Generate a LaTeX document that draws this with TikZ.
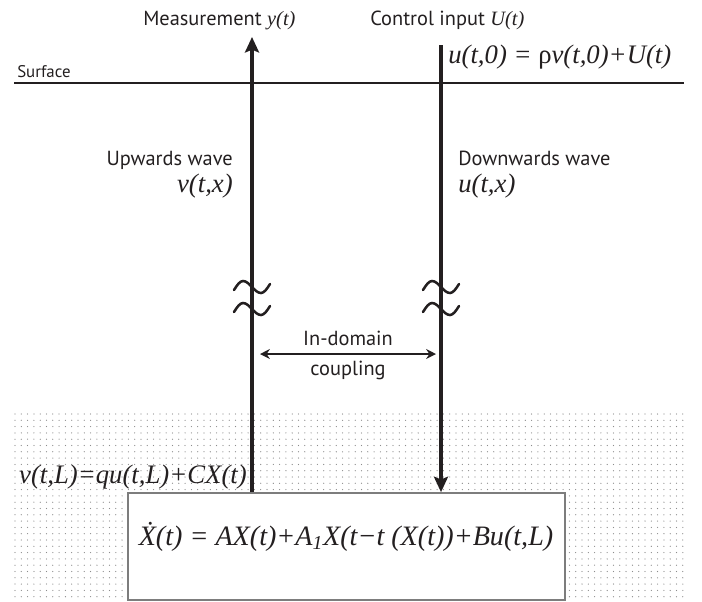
\documentclass[tikz,border=0pt]{standalone}
\usepackage{fontspec}
\usepackage{xcolor}
\usepackage{tikz}
\usetikzlibrary{arrows.meta, positioning, fit}
\newfontfamily\lblfont{PT Sans}
\newfontfamily\eqfont{Liberation Serif}
\definecolor{ink}{RGB}{35,31,32}
\definecolor{frame}{RGB}{125,125,125}
\definecolor{speck}{RGB}{140,140,140}
\newcommand{\mth}[1]{{\eqfont\itshape #1}}

\begin{document}
\begin{tikzpicture}[x=0.025cm, y=-0.025cm, text=ink,
  font=\lblfont\fontsize{14.5}{17}\selectfont,
  wave/.style={line width=2.2pt, draw=ink},
  tip/.style={-{Stealth[length=11pt, width=10pt, inset=2pt]}},
  couple/.style={{Stealth[length=7pt, width=7pt]}-{Stealth[length=7pt, width=7pt]},
                 line width=1.4pt, draw=ink},
  plant/.style={rectangle, draw=frame, fill=white, line width=1.2pt, inner sep=0pt},
  lbl/.style={inner sep=0pt},
  eq/.style={inner sep=0pt, font=\eqfont\itshape\fontsize{19}{22}\selectfont}]
  \useasboundingbox (0,0) rectangle (702,601);
  % seabed
  \foreach \i in {0,...,106}
    \foreach \j in {0,...,29}
      \fill[speck] (15+\i*6.3, 414+\j*6.3) circle[radius=0.45pt];
  \coordinate (sl) at (14,83);
  \coordinate (sr) at (684,83);
  \draw[line width=0.8pt, ink] (sl) -- (sr);
  \node[lbl, anchor=base west, font=\lblfont\fontsize{12}{13}\selectfont] (surf) at (17,77) {Surface};

  \node[plant, fit={(128,493) (565,600)}] (plant) {};
  \node[eq, anchor=base, font=\eqfont\itshape\fontsize{20}{23}\selectfont] (xdot) at (346,545)
    {\.{X}(t) = AX(t)+A\textsubscript{1}X(t−t (X(t))+Bu(t,L)};

  \node[lbl, anchor=base west] (meas) at (143,25) {Measurement \mth{y(t)}};
  \node[lbl, anchor=base west] (ctrl) at (370,25) {Control input \mth{U(t)}};
  \node[eq, anchor=base west] (bc0) at (448,63) {u(t,0) = {\upshape ρ}v(t,0)+U(t)};
  \node[eq, anchor=base east] (bcL) at (247,483) {v(t,L)=qu(t,L)+CX(t)};

  \node[lbl, anchor=base east] (upw) at (233,165) {Upwards wave};
  \node[eq, anchor=base east] (vx) at (233,192) {v(t,x)};
  \node[lbl, anchor=base west] (dnw) at (458,165) {Downwards wave};
  \node[eq, anchor=base west] (ux) at (458,192) {u(t,x)};

  % the two waves
  \coordinate (ytip) at (252,37);
  \coordinate (utop) at (441,45);
  \draw[wave, tip] (plant.north -| ytip) -- (ytip);
  \draw[wave, tip] (utop) -- (utop |- plant.north);
  \foreach \x in {252,441}
    \foreach \y in {287,309}
      \draw[line width=1.8pt, ink, line cap=round] (\x-18,\y+3) sin (\x-9,\y-6) cos (\x,\y)
        sin (\x+9,\y+6) cos (\x+18,\y-3);

  \coordinate (cl) at (260,354);
  \coordinate (cr) at (436,354);
  \draw[couple] (cl) -- node[lbl, above=5pt] {In-domain} node[lbl, below=4pt] {coupling} (cr);
\end{tikzpicture}
\end{document}
